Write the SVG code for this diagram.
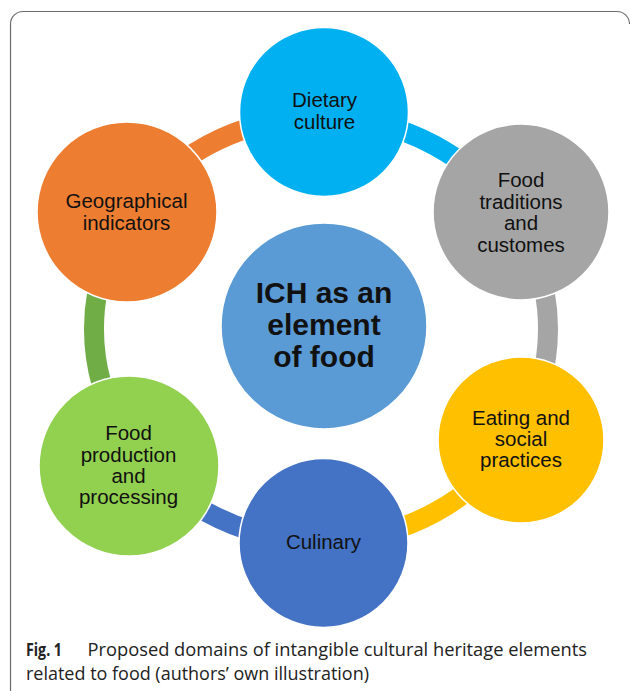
<svg xmlns="http://www.w3.org/2000/svg" width="630" height="691" viewBox="0 0 630 691">
<style>
.ring{fill:none;stroke-width:20;stroke-linecap:butt}
.node{stroke:#ffffff;stroke-width:1.5}
.lbl{font-family:"Liberation Sans",Arial,sans-serif;font-size:20.5px;fill:#111111;text-anchor:middle}
.big{font-family:"Liberation Sans",Arial,sans-serif;font-size:30px;font-weight:bold;fill:#111111;text-anchor:middle}
.cap{font-family:"Open Sans","Liberation Sans",sans-serif;font-size:18px;fill:#222222}
</style>
<rect width="630" height="691" fill="#ffffff"/>
<path d="M10.5 691 V24 A12.5 12.5 0 0 1 23 11.5 H617 A12.5 12.5 0 0 1 629.5 24" fill="none" stroke="#6b6b6b" stroke-width="1.2"/>
<g id="connectors">
<path class="ring" stroke="#ED7D31" d="M124.4 223 A227 212 0 0 1 321 117"/>
<path class="ring" stroke="#00B0F0" d="M321 117 A227 212 0 0 1 517.6 223"/>
<path class="ring" stroke="#A5A5A5" d="M517.6 223 A227 212 0 0 1 517.6 435"/>
<path class="ring" stroke="#FFC000" d="M517.6 435 A227 212 0 0 1 321 541"/>
<path class="ring" stroke="#4472C4" d="M321 541 A227 212 0 0 1 124.4 435"/>
<path class="ring" stroke="#70AD47" d="M124.4 435 A227 212 0 0 1 124.4 223"/>
</g>
<g id="dietary">
<circle class="node" cx="324" cy="112" r="84.5" fill="#00B0F0"/>
<text class="lbl" x="324.5" y="107">Dietary</text>
<text class="lbl" x="324.5" y="129">culture</text>
</g>
<g id="food-traditions">
<circle class="node" cx="521" cy="212" r="88" fill="#A5A5A5"/>
<text class="lbl" x="521" y="187">Food</text>
<text class="lbl" x="521" y="208.5">traditions</text>
<text class="lbl" x="521" y="230">and</text>
<text class="lbl" x="521" y="251.5">customes</text>
</g>
<g id="eating">
<circle class="node" cx="521" cy="440" r="83" fill="#FFC000"/>
<text class="lbl" x="521" y="425">Eating and</text>
<text class="lbl" x="521" y="446">social</text>
<text class="lbl" x="521" y="467">practices</text>
</g>
<g id="culinary">
<circle class="node" cx="323.5" cy="543" r="84.5" fill="#4472C4"/>
<text class="lbl" x="323.5" y="549">Culinary</text>
</g>
<g id="food-production">
<circle class="node" cx="129" cy="466" r="90" fill="#92D050"/>
<text class="lbl" x="128.5" y="440">Food</text>
<text class="lbl" x="128.5" y="461.5">production</text>
<text class="lbl" x="128.5" y="483">and</text>
<text class="lbl" x="128.5" y="504">processing</text>
</g>
<g id="geographical">
<circle class="node" cx="127" cy="212" r="90" fill="#ED7D31"/>
<text class="lbl" x="126.5" y="207.5">Geographical</text>
<text class="lbl" x="126.5" y="229.5">indicators</text>
</g>
<g id="ich">
<circle class="node" cx="324" cy="326" r="103" fill="#5B9BD5"/>
<text class="big" x="324" y="303">ICH as an</text>
<text class="big" x="324" y="335">element</text>
<text class="big" x="324" y="367">of food</text>
</g>
<g id="caption">
<text class="cap" x="26" y="656" font-weight="bold" textLength="36" lengthAdjust="spacingAndGlyphs">Fig. 1</text>
<text class="cap" x="87.5" y="656" textLength="499.5" lengthAdjust="spacingAndGlyphs">Proposed domains of intangible cultural heritage elements</text>
<text class="cap" x="26" y="680" textLength="343" lengthAdjust="spacingAndGlyphs">related to food (authors’ own illustration)</text>
</g>
</svg>
